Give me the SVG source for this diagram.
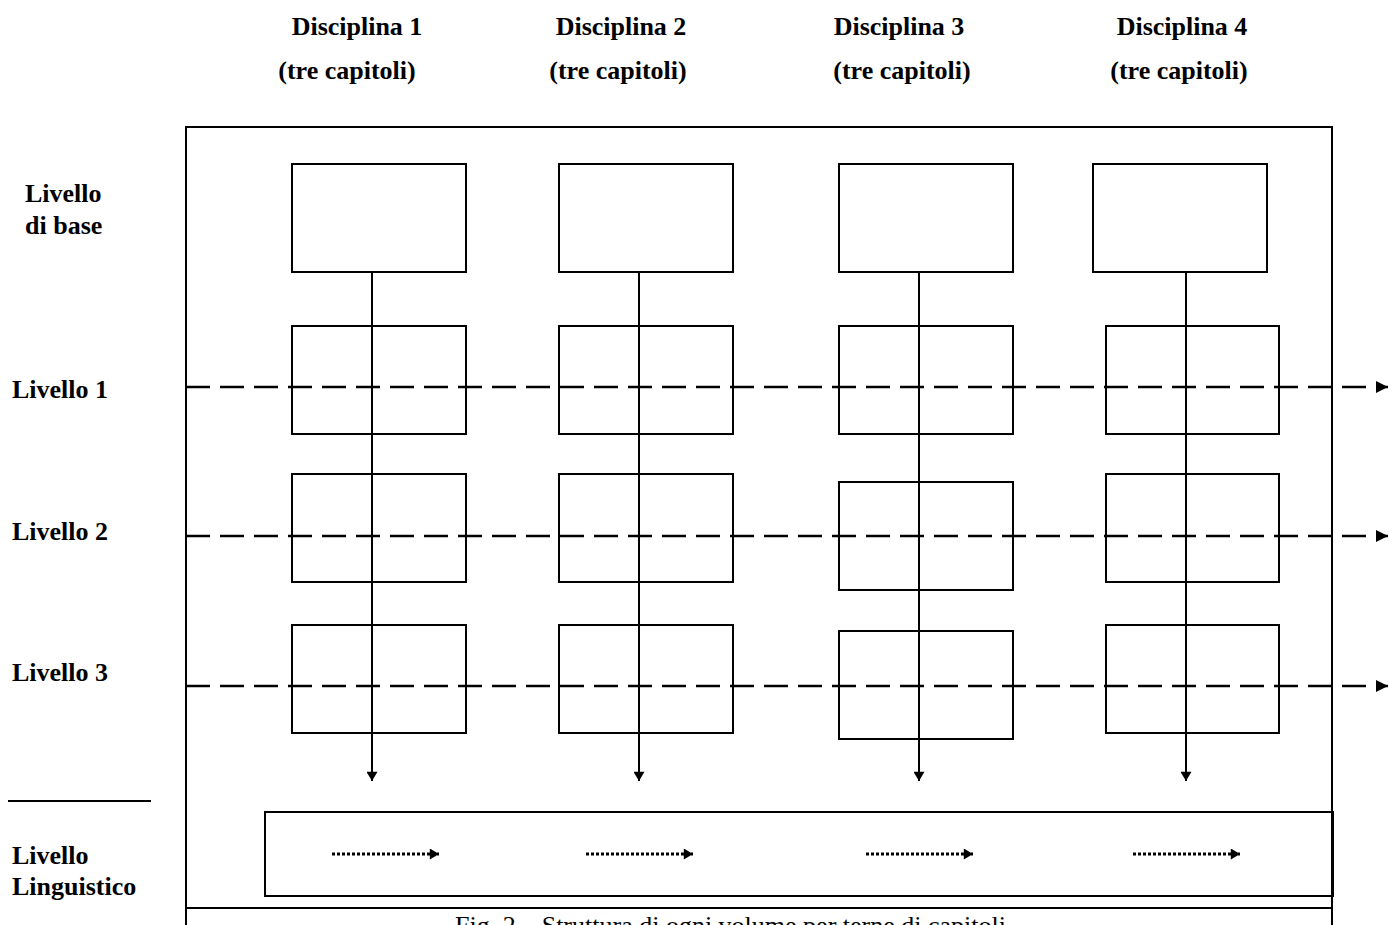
<svg xmlns="http://www.w3.org/2000/svg" width="1389" height="925" viewBox="0 0 1389 925">
<style>
text{font-family:"Liberation Serif","Times New Roman",serif;fill:#000;font-size:26px}
.b{font-weight:bold}
.box{fill:none;stroke:#000;stroke-width:2}
.frame{fill:none;stroke:#000;stroke-width:2}
.v{stroke:#000;stroke-width:2;fill:none}
.d{stroke:#000;stroke-width:2.5;fill:none;stroke-dasharray:24 10}
.dot{stroke:#000;stroke-width:3;fill:none;stroke-dasharray:3 2}
</style>
<defs>
<marker id="ah" viewBox="0 0 10 12" refX="10" refY="6" markerWidth="12" markerHeight="11" markerUnits="userSpaceOnUse" orient="auto"><path d="M0,0 L10,6 L0,12 z" fill="#000"/></marker>
<marker id="ahd" viewBox="0 0 12 12" refX="12" refY="6" markerWidth="13" markerHeight="12" markerUnits="userSpaceOnUse" orient="auto"><path d="M0,0 L12,6 L0,12 z" fill="#000"/></marker>
</defs>
<rect width="1389" height="925" fill="#fff"/>
<g id="headers">
<text class="b" x="357" y="35" text-anchor="middle">Disciplina 1</text>
<text class="b" x="347" y="79" text-anchor="middle">(tre capitoli)</text>
<text class="b" x="621" y="35" text-anchor="middle">Disciplina 2</text>
<text class="b" x="618" y="79" text-anchor="middle">(tre capitoli)</text>
<text class="b" x="899" y="35" text-anchor="middle">Disciplina 3</text>
<text class="b" x="902" y="79" text-anchor="middle">(tre capitoli)</text>
<text class="b" x="1182" y="35" text-anchor="middle">Disciplina 4</text>
<text class="b" x="1179" y="79" text-anchor="middle">(tre capitoli)</text>
</g>
<g id="row-labels">
<text class="b" x="25" y="202">Livello</text>
<text class="b" x="25" y="234">di base</text>
<text class="b" x="12" y="398">Livello 1</text>
<text class="b" x="12" y="540">Livello 2</text>
<text class="b" x="12" y="681">Livello 3</text>
<line x1="8" y1="801" x2="151" y2="801" stroke="#000" stroke-width="2"/>
<text class="b" x="12" y="864">Livello</text>
<text class="b" x="12" y="895">Linguistico</text>
</g>
<g id="frame">
<path class="frame" d="M186,925 V127 H1332 V925"/>
<line x1="186" y1="908" x2="1332" y2="908" stroke="#000" stroke-width="2"/>
</g>
<g id="col1">
<rect class="box" x="292" y="164" width="174" height="108"/>
<rect class="box" x="292" y="326" width="174" height="108"/>
<rect class="box" x="292" y="474" width="174" height="108"/>
<rect class="box" x="292" y="625" width="174" height="108"/>
</g>
<g id="col2">
<rect class="box" x="559" y="164" width="174" height="108"/>
<rect class="box" x="559" y="326" width="174" height="108"/>
<rect class="box" x="559" y="474" width="174" height="108"/>
<rect class="box" x="559" y="625" width="174" height="108"/>
</g>
<g id="col3">
<rect class="box" x="839" y="164" width="174" height="108"/>
<rect class="box" x="839" y="326" width="174" height="108"/>
<rect class="box" x="839" y="482" width="174" height="108"/>
<rect class="box" x="839" y="631" width="174" height="108"/>
</g>
<g id="col4">
<rect class="box" x="1093" y="164" width="174" height="108"/>
<rect class="box" x="1106" y="326" width="173" height="108"/>
<rect class="box" x="1106" y="474" width="173" height="108"/>
<rect class="box" x="1106" y="625" width="173" height="108"/>
</g>
<g id="linguistic">
<rect class="box" x="265" y="812" width="1068" height="84"/>
</g>
<g id="connectors">
<line class="v" x1="372" y1="272" x2="372" y2="781" marker-end="url(#ah)"/>
<line class="v" x1="639" y1="272" x2="639" y2="781" marker-end="url(#ah)"/>
<line class="v" x1="919" y1="272" x2="919" y2="781" marker-end="url(#ah)"/>
<line class="v" x1="1186" y1="272" x2="1186" y2="781" marker-end="url(#ah)"/>
<line class="d" x1="186" y1="387" x2="1388" y2="387" marker-end="url(#ahd)"/>
<line class="d" x1="186" y1="536" x2="1388" y2="536" marker-end="url(#ahd)"/>
<line class="d" x1="186" y1="686" x2="1388" y2="686" marker-end="url(#ahd)"/>
<line class="dot" x1="332" y1="854" x2="439" y2="854" marker-end="url(#ah)"/>
<line class="dot" x1="586" y1="854" x2="693" y2="854" marker-end="url(#ah)"/>
<line class="dot" x1="866" y1="854" x2="973" y2="854" marker-end="url(#ah)"/>
<line class="dot" x1="1133" y1="854" x2="1240" y2="854" marker-end="url(#ah)"/>
</g>
<g id="caption">
<text x="455" y="934">Fig. 2 – Struttura di ogni volume per terne di capitoli</text>
</g>
</svg>
